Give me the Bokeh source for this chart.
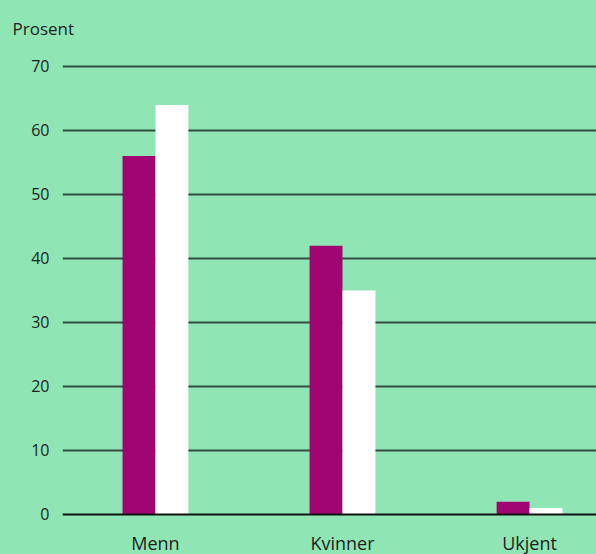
from bokeh.plotting import figure
from bokeh.models import Range1d, FixedTicker, Span, ColumnDataSource
from bokeh.core.properties import value
from bokeh.embed import file_html
from bokeh.resources import INLINE

categories = ["Menn", "Kvinner", "Ukjent"]
series_purple = [56, 42, 2]
series_white = [64, 35, 1]
y_ticks = [0, 10, 20, 30, 40, 50, 60, 70]
y_title = "Prosent"

BG = "#8fe6b4"
PURPLE = "#a10572"
TEXT = "#1e1e1e"
FONT = "Open Sans"

xs = list(range(len(categories)))
bar_w = 0.176
src_p = ColumnDataSource(dict(x=[x - bar_w / 2 for x in xs], top=series_purple))
src_w = ColumnDataSource(dict(x=[x + bar_w / 2 for x in xs], top=series_white))
src_lbl = ColumnDataSource(dict(x=xs, y=[-4.5] * len(xs), text=categories))

p = figure(width=596, height=554, output_backend="svg", toolbar_location=None,
           x_range=Range1d(-0.497, 2.358), y_range=Range1d(-6.25, 72.03),
           min_border_left=62, min_border_right=0, min_border_top=53, min_border_bottom=0)

p.styles = {"background-color": BG}
p.background_fill_color = BG
p.border_fill_color = None
p.outline_line_color = None

p.vbar(x="x", top="top", width=bar_w, source=src_p, fill_color=PURPLE, line_color=None)
p.vbar(x="x", top="top", width=bar_w, source=src_w, fill_color="white", line_color=None)

p.text(x="x", y="y", text="text", source=src_lbl, text_align="center",
       text_baseline="middle", text_font=value(FONT), text_font_size="18px",
       text_color=TEXT)

p.xgrid.grid_line_color = None
p.ygrid.grid_line_color = "#2f4d3d"
p.ygrid.grid_line_width = 2
p.ygrid.ticker = FixedTicker(ticks=y_ticks[1:])
p.add_layout(Span(location=0, dimension="width", line_color="#111111", line_width=2))

p.xaxis.visible = False

p.yaxis.ticker = FixedTicker(ticks=y_ticks)
p.yaxis.axis_line_color = None
p.yaxis.major_tick_line_color = None
p.yaxis.minor_tick_line_color = None
p.yaxis.major_label_standoff = 7
p.yaxis.major_label_text_font = FONT
p.yaxis.major_label_text_font_size = "16px"
p.yaxis.major_label_text_color = TEXT

p.title.text = y_title
p.title.text_font = FONT
p.title.text_font_size = "17px"
p.title.text_font_style = "normal"
p.title.text_color = TEXT
p.title.text_line_height = 1.0
p.title.align = "left"
p.title.offset = -50
p.title.standoff = 28

open("out.html", "w").write(file_html(p, INLINE))
